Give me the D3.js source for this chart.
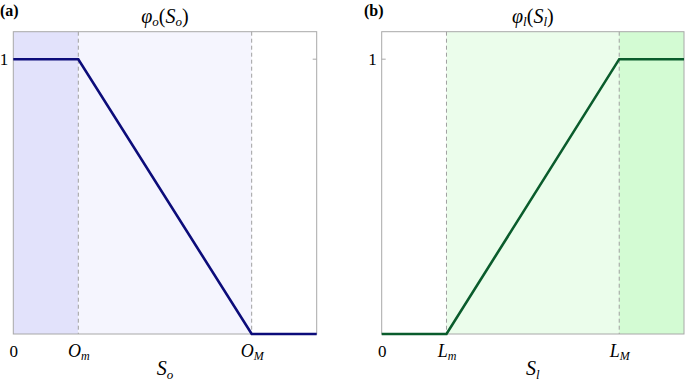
<!DOCTYPE html>
<html><head><meta charset="utf-8">
<script src="https://cdn.jsdelivr.net/npm/d3@7"></script>
</head>
<body style="margin:0"><svg id="c" width="685" height="381"></svg>
<script>
// data
const xMax = 1.4, yMax = 1.1;
const oBreaks = [0.3, 1.1];            // O_m, O_M
const lBreaks = [0.3, 1.1];            // L_m, L_M
const oX = [0, 0.3, 1.1, 1.4], oY = [1, 1, 0, 0];
const lX = [0, 0.3, 1.1, 1.4], lY = [0, 0, 1, 1];
const oTickLabels = [["0",""],["O","m"],["O","M"]];
const lTickLabels = [["0",""],["L","m"],["L","M"]];

const FF = "Liberation Serif";
const svg = d3.select("#c");

function panel(cfg){
  const g = svg.append("g");
  const x = d3.scaleLinear().domain([0,xMax]).range([cfg.x0, cfg.x1]);
  const y = d3.scaleLinear().domain([0,yMax]).range([334, 31.7]);
  cfg.regions.forEach(r=>{
    g.append("rect").attr("x",x(r[0])).attr("y",y(yMax)).attr("width",x(r[1])-x(r[0]))
     .attr("height",y(0)-y(yMax)).attr("fill",r[2]);
  });
  cfg.breaks.forEach(b=>{
    g.append("line").attr("x1",x(b)).attr("x2",x(b)).attr("y1",y(yMax)).attr("y2",y(0))
     .attr("stroke","#a0a0a0").attr("stroke-width",1).attr("stroke-dasharray","4,3");
  });
  g.append("rect").attr("x",x(0)).attr("y",y(yMax)).attr("width",x(xMax)-x(0)).attr("height",y(0)-y(yMax))
   .attr("fill","none").attr("stroke","#a8a8a8").attr("stroke-width",1);
  g.append("line").attr("x1",x(xMax)-4).attr("x2",x(xMax)).attr("y1",y(1)).attr("y2",y(1)).attr("stroke","#a8a8a8");
  g.append("line").attr("x1",x(0)).attr("x2",x(0)+4).attr("y1",y(1)).attr("y2",y(1)).attr("stroke","#a8a8a8");
  const line = d3.line().x(d=>x(d[0])).y(d=>y(d[1]));
  g.append("path").datum(d3.zip(cfg.xs, cfg.ys)).attr("d",line).attr("fill","none")
   .attr("stroke",cfg.color).attr("stroke-width",2.6).attr("stroke-linejoin","miter");
  const ax = g.append("g").attr("transform",`translate(0,${y(0)})`)
    .call(d3.axisBottom(x).tickValues([0].concat(cfg.breaks)).tickSize(0).tickPadding(9).tickFormat(""));
  ax.attr("font-family",FF).attr("font-size",17);
  ax.select(".domain").remove();
  ax.selectAll(".tick text").each(function(d,i){
    const t = d3.select(this).attr("fill","#000").attr("dy","0.8em");
    const lab = cfg.ticks[i];
    if(lab[1]===""){ t.text(lab[0]); }
    else {
      t.append("tspan").attr("font-style","italic").attr("font-size",18).text(lab[0]);
      t.append("tspan").attr("font-style","italic").attr("font-size",12).attr("dy","3").text(lab[1]);
    }
  });
  g.append("text").style("font-family",FF).style("font-size","17px").attr("x",x(0)-5).attr("y",y(1)+5.5).attr("text-anchor","end").text("1");
  const xt = g.append("text").style("font-family",FF).style("font-size","20px").attr("x",(cfg.x0+cfg.x1)/2).attr("y",375).attr("text-anchor","middle");
  xt.append("tspan").style("font-style","italic").text("S");
  xt.append("tspan").style("font-style","italic").style("font-size","13px").attr("dy",4).text(cfg.sub);
  const tt = g.append("text").style("font-family",FF).style("font-size","20px").attr("x",(cfg.x0+cfg.x1)/2).attr("y",23).attr("text-anchor","middle");
  tt.append("tspan").style("font-style","italic").text("φ");
  tt.append("tspan").style("font-style","italic").style("font-size","13px").attr("dy",3).text(cfg.sub);
  tt.append("tspan").attr("dy",-3).text("(");
  tt.append("tspan").style("font-style","italic").text("S");
  tt.append("tspan").style("font-style","italic").style("font-size","13px").attr("dy",3).text(cfg.sub);
  tt.append("tspan").attr("dy",-3).text(")");
  svg.append("text").style("font-family",FF).style("font-size","16px").style("font-weight","bold").attr("x",cfg.labx).attr("y",16).text(cfg.label);
}

panel({x0:13.3,x1:316.7,breaks:oBreaks,xs:oX,ys:oY,color:"#0c0c7a",ticks:oTickLabels,sub:"o",
  regions:[[0,oBreaks[0],"#e2e2fb"],[oBreaks[0],oBreaks[1],"#f5f5fe"]],label:"(a)",labx:0});
panel({x0:381.7,x1:684,breaks:lBreaks,xs:lX,ys:lY,color:"#0a5c2c",ticks:lTickLabels,sub:"l",
  regions:[[lBreaks[0],lBreaks[1],"#ebfdeb"],[lBreaks[1],xMax,"#d3fbd3"]],label:"(b)",labx:364});
</script></body></html>
